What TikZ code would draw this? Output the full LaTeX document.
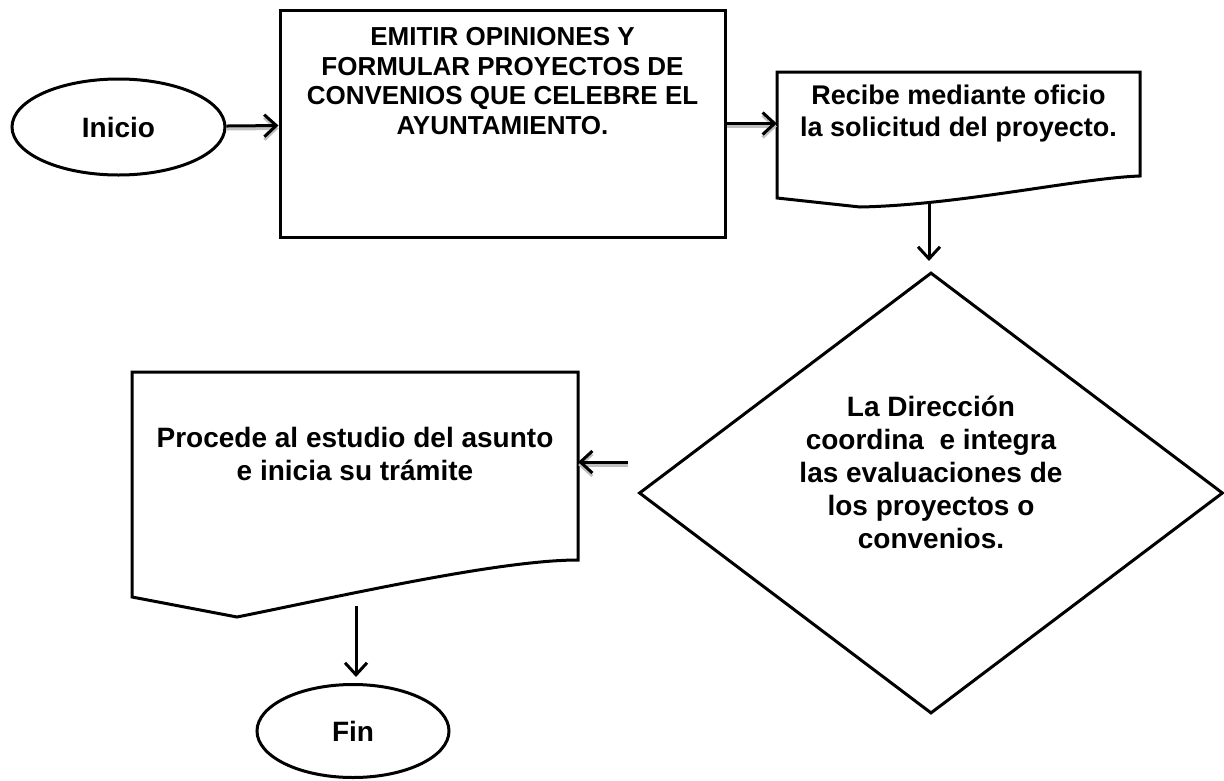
\documentclass[tikz,border=0pt]{standalone}
\usepackage{fontspec}
\setmainfont{Liberation Sans}
\usetikzlibrary{shapes.geometric,arrows.meta,positioning}

\tikzset{
  linea/.style={line width=3pt, line join=miter},
  flecha/.style={line width=3pt, -{Straight Barb[length=12pt,width=22pt]}},
  sombra/.style={preaction={draw=gray!50, line width=3pt, transform canvas={yshift=-3pt}}},
  texto/.style={font=\bfseries\fontsize{28}{33}\selectfont, align=center}
}

\begin{document}
\begin{tikzpicture}[x=1pt,y=-1pt]
  \useasboundingbox (0,0) rectangle (1224,780);

        \begin{scope}[every node/.style={draw, linea, texto}]
          \node[ellipse, minimum width=213pt, minimum height=96pt] (inicio) at (118.5,127) {Inicio};
          \node[minimum width=445pt, minimum height=227pt] (emitir) at (502.5,123.5) {};
          \node[diamond, minimum width=584pt, minimum height=441pt] (dir) at (931,493) {};
          \node[ellipse, minimum width=192pt, minimum height=93pt] (fin) at (353,731) {Fin};
        \end{scope}

        \begin{scope}[every node/.style={texto}]
          \node[font=\bfseries\fontsize{26}{29.5}\selectfont] (emitirtxt) at (502.5,81)
            {EMITIR OPINIONES Y\\FORMULAR PROYECTOS DE\\CONVENIOS QUE CELEBRE EL\\AYUNTAMIENTO.};
          \node[minimum width=363pt, font=\bfseries\fontsize{27}{32}\selectfont] (recibe) at (958.5,114)
            {Recibe mediante oficio\\la solicitud del proyecto.};
          \node (dirtxt) at (931,472)
            {La Direcci\'on\\coordina\ \ e integra\\las evaluaciones de\\los proyectos o\\convenios.};
          \node[minimum width=446pt] (procede) at (355,453.5)
            {Procede al estudio del asunto\\e inicia su tr\'amite};
        \end{scope}

        % documentos
        \draw[linea] (777,198) -- (777,72) -- (1140,72) -- (1140,176)
          .. controls (1080,178) and (960,205) .. (860,207) -- cycle;
        \draw[linea] (132,597) -- (132,372) -- (578,372) -- (578,560)
          .. controls (498,560) and (337,597) .. (237,617) -- cycle;

        \coordinate (r1) at (929,204);
        \coordinate (d1) at (628,462);
        \coordinate (p1) at (356,606);

        \draw[flecha, sombra] (inicio) -- (emitir);
        \draw[flecha, sombra] (emitir.east) -- (emitir.east -| recibe.west);
        \draw[flecha, shorten >=10pt] (r1) -- (r1 |- dir.north);
        \draw[flecha, sombra] (d1) -- (d1 -| procede.east);
        \draw[flecha, shorten >=6pt] (p1) -- (p1 |- fin.north);

      \end{tikzpicture}
\end{document}
